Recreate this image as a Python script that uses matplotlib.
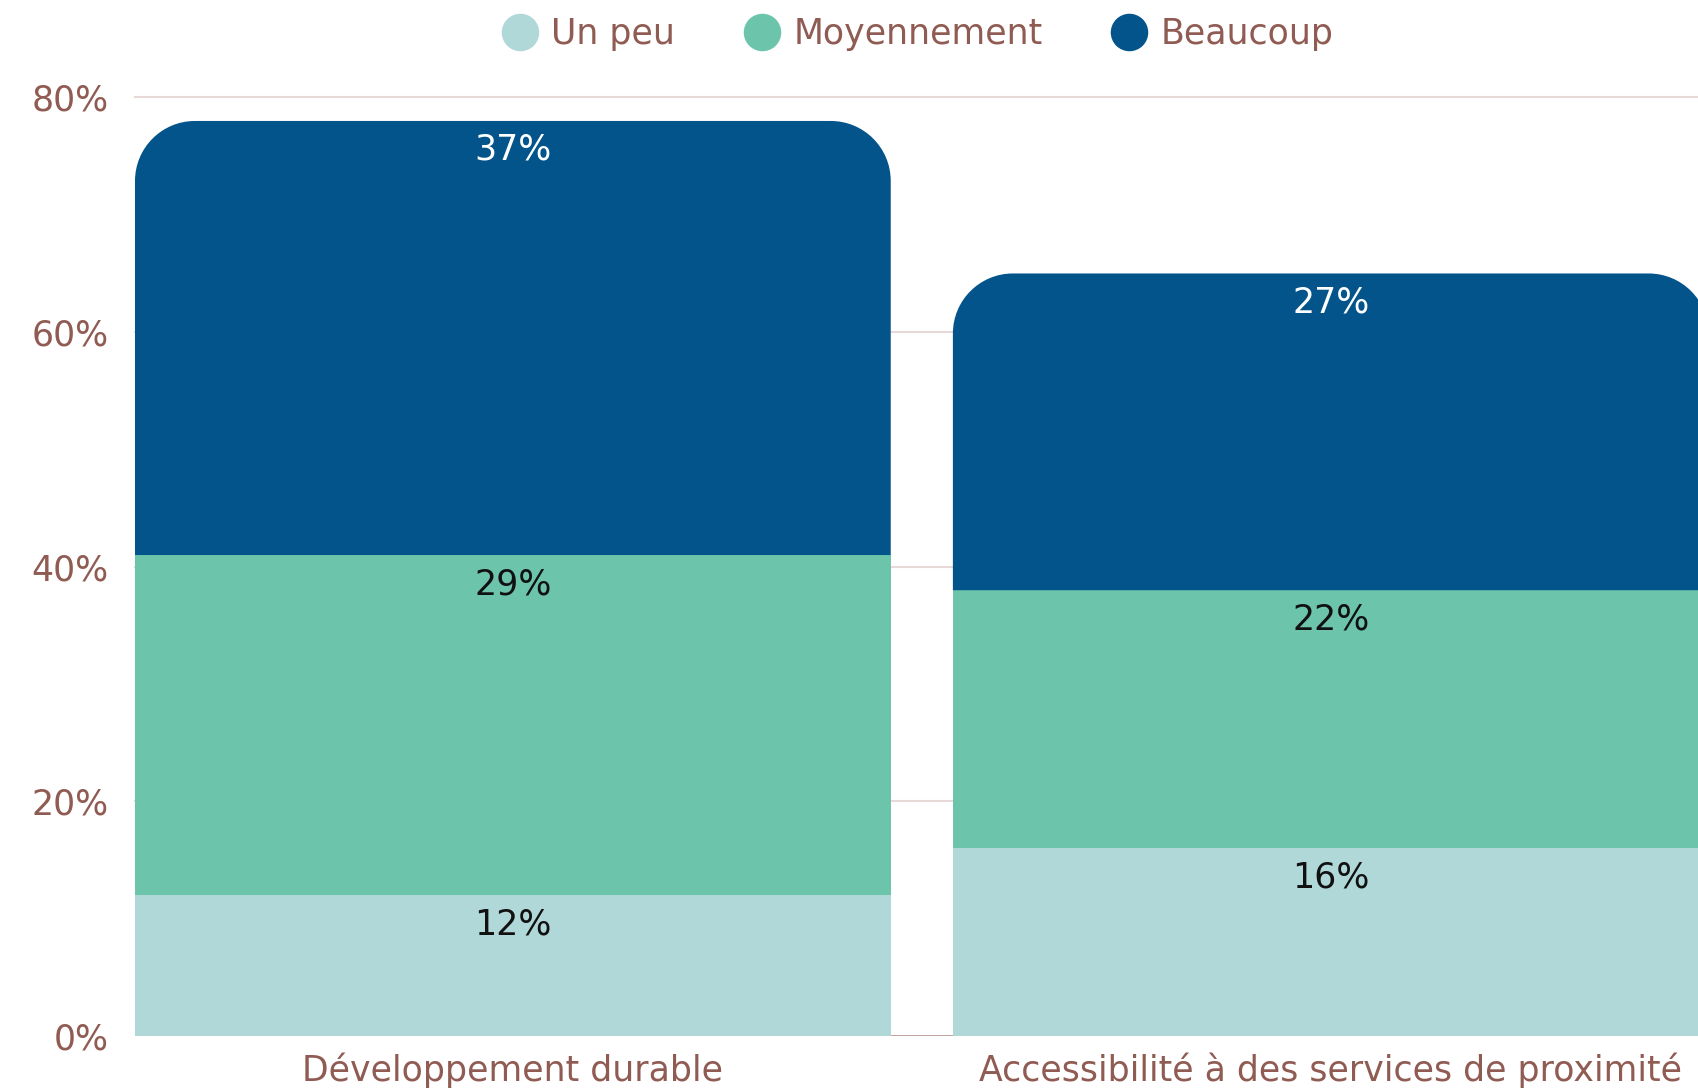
import numpy as np
import matplotlib
matplotlib.use("Agg")
import matplotlib.pyplot as plt
from matplotlib.path import Path
from matplotlib.patches import PathPatch, Rectangle
from matplotlib.lines import Line2D

plt.rcParams['font.family'] = ['DejaVu Sans']

# data
categories = ['Développement durable', 'Accessibilité à des services de proximité']
series = ['Un peu', 'Moyennement', 'Beaucoup']
un_peu = [12, 16]
moyennement = [29, 22]
beaucoup = [37, 27]
yticks = [0, 20, 40, 60, 80]

colors = ['#b1d8d8', '#6cc4ab', '#03548b']
label_colors = ['#111111', '#111111', '#ffffff']
text_col = '#8f5b52'
grid_col = '#e8d8d8'

W, H = 1698, 1089
fig = plt.figure(figsize=(W / 100, H / 100), dpi=100)
ax = fig.add_axes([135 / W, 1 - 1036 / H, 1 - 135 / W, (1036 - 97.5) / H])

bar_w = 0.924
ax.set_xlim(-bar_w / 2, 1.449)
ax.set_ylim(0, 80)

# pixel -> data ratio for rounded corners
px_x = (1 - 135 / W) * W / (1.449 + bar_w / 2)
px_y = (1036 - 97.5) / 80
rad = 60
rx, ry = rad / px_x, rad / px_y
k = 0.5523


def rounded_top(x0, x1, y0, y1):
    verts = [(x0, y0), (x0, y1 - ry),
             (x0, y1 - ry + k * ry), (x0 + rx - k * rx, y1), (x0 + rx, y1),
             (x1 - rx, y1),
             (x1 - rx + k * rx, y1), (x1, y1 - ry + k * ry), (x1, y1 - ry),
             (x1, y0), (x0, y0)]
    codes = [Path.MOVETO, Path.LINETO,
             Path.CURVE4, Path.CURVE4, Path.CURVE4,
             Path.LINETO,
             Path.CURVE4, Path.CURVE4, Path.CURVE4,
             Path.LINETO, Path.CLOSEPOLY]
    return Path(verts, codes)


for yv in yticks[1:]:
    ax.axhline(yv, color=grid_col, lw=1.5, zorder=0, clip_on=False)

values = [un_peu, moyennement, beaucoup]
x = np.arange(len(categories))
bottom = np.zeros(len(categories))
for si, vals in enumerate(values):
    for i in range(len(categories)):
        x0, x1 = x[i] - bar_w / 2, x[i] + bar_w / 2
        y0, y1 = bottom[i], bottom[i] + vals[i]
        if si == len(values) - 1:
            p = PathPatch(rounded_top(x0, x1, y0, y1), facecolor=colors[si],
                          edgecolor='none', zorder=2, clip_on=True)
        else:
            p = Rectangle((x0, y0), bar_w, vals[i], facecolor=colors[si],
                          edgecolor='none', zorder=2)
        ax.add_patch(p)
        ax.text(x[i], y1 - 29 / px_y, f'{vals[i]}%', ha='center', va='center',
                fontsize=25, color=label_colors[si], zorder=3)
    bottom += np.array(vals)

ax.axhline(0, color='#c09a96', lw=2, zorder=1)

for s in ax.spines.values():
    s.set_visible(False)
ax.set_yticks(yticks)
ax.set_yticklabels([f'{v}%' for v in yticks])
ax.set_xticks(x)
ax.set_xticklabels(categories)
ax.tick_params(length=0, labelsize=25, labelcolor=text_col)
ax.tick_params(axis='y', pad=19)
ax.tick_params(axis='x', pad=12)

handles = [Line2D([], [], marker='o', ls='none', markersize=27,
                  markerfacecolor=c, markeredgecolor='none') for c in colors]
fig.legend(handles, series, loc='center',
           bbox_to_anchor=((135 + W) / 2 / W, 1 - 34 / H),
           ncol=3, frameon=False, fontsize=25, labelcolor=text_col,
           handletextpad=0.3, columnspacing=1.9, handlelength=1.2)

fig.savefig('out.png', dpi=100)
